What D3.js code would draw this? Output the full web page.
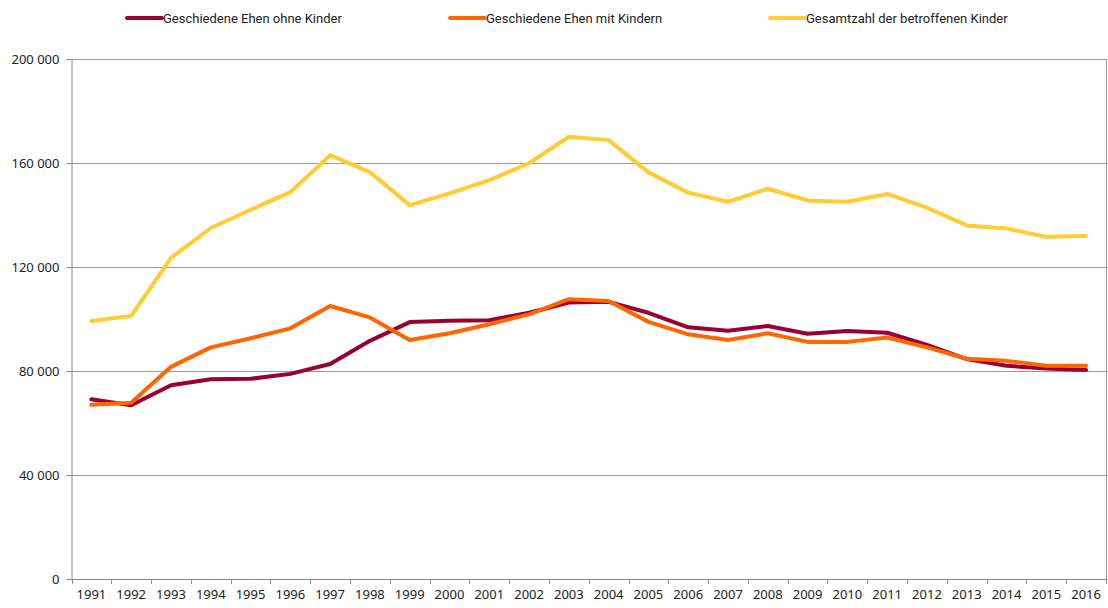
<!DOCTYPE html>
<html>
<head>
<meta charset="utf-8">
<script src="https://cdn.jsdelivr.net/npm/d3@7"></script>
<style>
  body { margin: 0; background: #fff; }
  svg { display: block; }
</style>
</head>
<body>
<svg width="1108" height="608"></svg>
<script>
// values
var years = [1991,1992,1993,1994,1995,1996,1997,1998,1999,2000,2001,2002,2003,
             2004,2005,2006,2007,2008,2009,2010,2011,2012,2013,2014,2015,2016];
var ohneKinder = [69100,66800,74500,76800,77000,78900,82700,91600,98800,99300,99500,102400,106300,
                  106600,102400,96800,95500,97300,94300,95400,94700,90000,84600,82000,81000,80400];
var mitKindern = [67000,67800,81600,89100,92600,96400,105000,100600,91900,94500,98000,101800,107600,
                  106900,98900,94100,91900,94500,91200,91200,92900,89100,84700,83900,82000,82000];
var kinderGesamt = [99200,101200,123500,135000,142000,148800,163000,156500,143800,148300,153400,159900,170100,
                    168800,156400,148600,145100,150100,145600,145100,148100,142800,136000,134800,131600,131900];
var yTicks = [0, 40000, 80000, 120000, 160000, 200000];

var series = [
  {name: "Gesamtzahl der betroffenen Kinder", values: kinderGesamt, color: "#ffcc33"},
  {name: "Geschiedene Ehen ohne Kinder", values: ohneKinder, color: "#990033"},
  {name: "Geschiedene Ehen mit Kindern", values: mitKindern, color: "#ff6600"}
];
var legendOrder = [1, 2, 0];

var svg = d3.select("svg");
var plotL = 71.5, plotR = 1106, plotT = 59, plotB = 579;
var font = "'Noto Sans', 'Open Sans', sans-serif";

var x = d3.scaleBand().domain(years).range([plotL, plotR]);
var y = d3.scaleLinear().domain([0, 200000]).range([plotB, plotT]);

var fmt = function (d) { return d3.format(",")(d).replace(/,/g, " "); };

// gridlines
svg.append("g")
    .selectAll("line")
    .data(yTicks.filter(function (d) { return d > 0; }))
    .enter().append("line")
    .attr("x1", plotL).attr("x2", plotR)
    .attr("y1", function (d) { return Math.round(y(d)) + 0.5; })
    .attr("y2", function (d) { return Math.round(y(d)) + 0.5; })
    .attr("stroke", "#999")
    .attr("stroke-width", 1);

// right border
svg.append("line")
    .attr("x1", plotR + 0.5).attr("x2", plotR + 0.5)
    .attr("y1", plotT).attr("y2", plotB)
    .attr("stroke", "#999");

// y axis
var yAxis = svg.append("g")
    .attr("transform", "translate(" + plotL + ",0)")
    .call(d3.axisLeft(y).tickValues(yTicks).tickFormat(fmt).tickSize(5).tickPadding(7));
yAxis.select(".domain").attr("stroke", "#8c8c8c");
yAxis.selectAll(".tick line").attr("stroke", "#8c8c8c");
yAxis.selectAll("text").attr("font-family", font).attr("font-size", 13).attr("fill", "#222");

// x axis: labels centred, ticks at category boundaries
var xAxis = svg.append("g")
    .attr("transform", "translate(0," + plotB + ")")
    .call(d3.axisBottom(x).tickSize(0).tickPadding(11));
xAxis.select(".domain").attr("stroke", "#8c8c8c");
xAxis.selectAll("text").attr("font-family", font).attr("font-size", 13).attr("fill", "#222");
svg.append("g")
    .selectAll("line")
    .data(years.concat(["end"]))
    .enter().append("line")
    .attr("x1", function (d, i) { return Math.round(plotL + i * x.step()) + 0.5; })
    .attr("x2", function (d, i) { return Math.round(plotL + i * x.step()) + 0.5; })
    .attr("y1", plotB).attr("y2", plotB + 5)
    .attr("stroke", "#8c8c8c");

// lines
var line = d3.line()
    .x(function (d, i) { return x(years[i]) + x.bandwidth() / 2; })
    .y(function (d) { return y(d); });

svg.append("g")
    .selectAll("path")
    .data(series)
    .enter().append("path")
    .attr("d", function (s) { return line(s.values); })
    .attr("fill", "none")
    .attr("stroke", function (s) { return s.color; })
    .attr("stroke-width", 4)
    .attr("stroke-linejoin", "round")
    .attr("stroke-linecap", "round");

// legend
var legendX = [127, 450, 770];
var legend = svg.append("g")
    .selectAll("g")
    .data(legendOrder)
    .enter().append("g")
    .attr("transform", function (d, i) { return "translate(" + legendX[i] + ",18)"; });
legend.append("line")
    .attr("x1", 0).attr("x2", 35)
    .attr("stroke", function (d) { return series[d].color; })
    .attr("stroke-width", 4)
    .attr("stroke-linecap", "round");
legend.append("text")
    .attr("x", 36)
    .attr("dy", "0.35em")
    .attr("font-family", "Roboto, sans-serif")
    .attr("font-size", 13)
    .attr("fill", "#222")
    .text(function (d) { return series[d].name; });
</script>
</body>
</html>
